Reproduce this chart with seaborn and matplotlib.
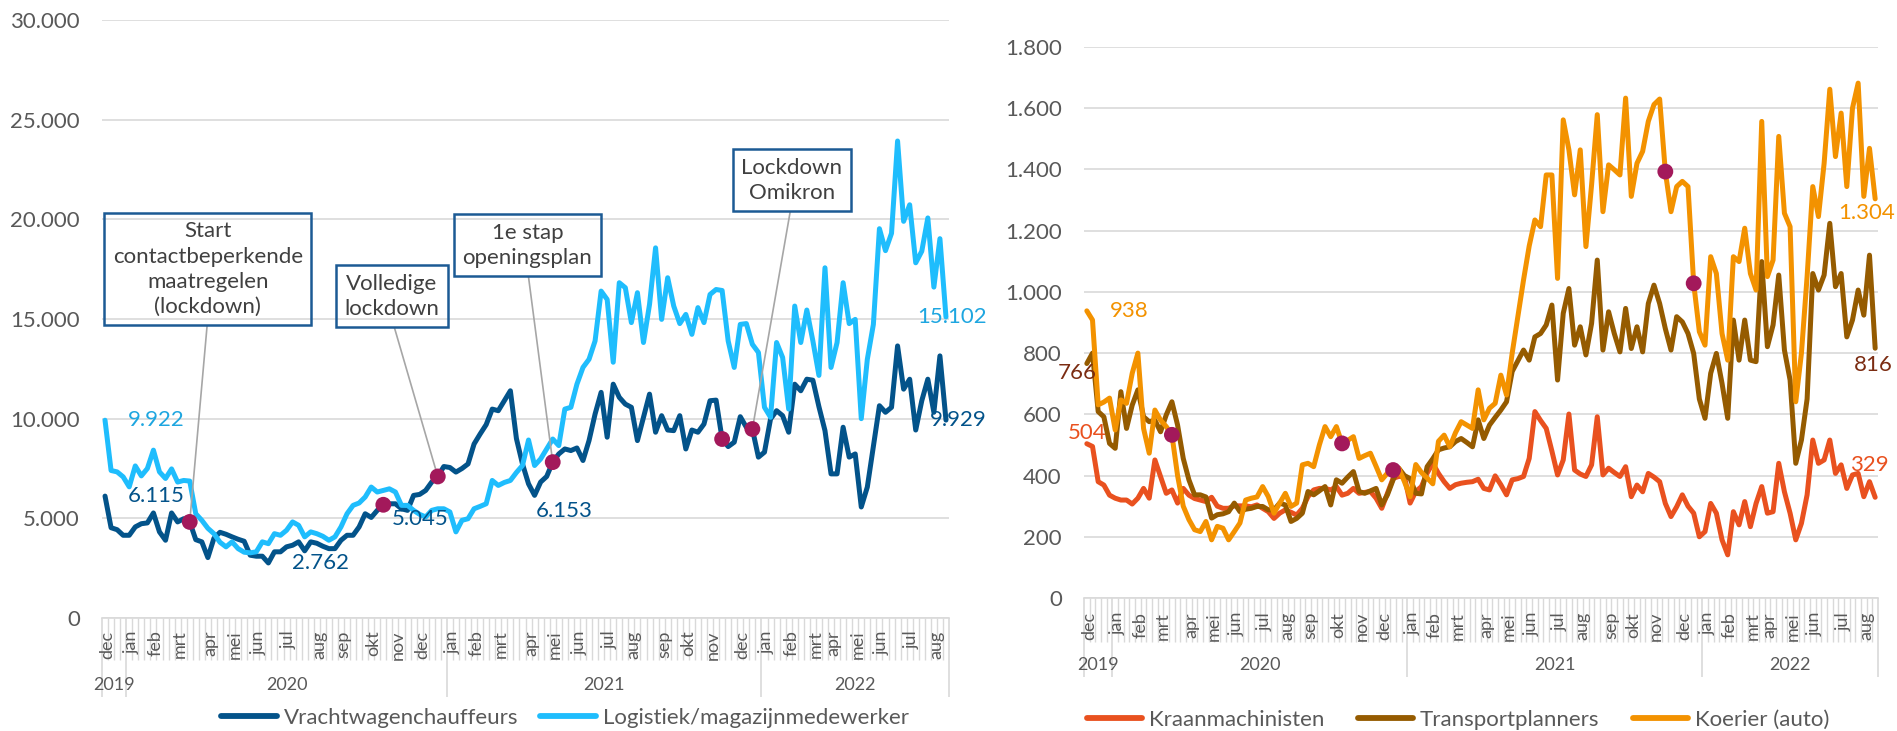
import numpy as np
import pandas as pd
import matplotlib
matplotlib.use("Agg")
import matplotlib.pyplot as plt
from matplotlib.lines import Line2D
from matplotlib.ticker import FuncFormatter, MultipleLocator
import seaborn as sns

# weekly category axis: (year, [(month, number of weeks)])
months_left = [
    ("2019", [("dec", 4)]),
    ("2020", [("jan", 4), ("feb", 4), ("mrt", 5), ("apr", 4), ("mei", 4), ("jun", 5),
              ("jul", 5), ("aug", 4), ("sep", 5), ("okt", 4), ("nov", 4), ("dec", 5)]),
    ("2021", [("jan", 4), ("feb", 4), ("mrt", 5), ("apr", 4), ("mei", 4), ("jun", 5),
              ("jul", 4), ("aug", 5), ("sep", 4), ("okt", 4), ("nov", 5), ("dec", 4)]),
    ("2022", [("jan", 4), ("feb", 4), ("mrt", 3), ("apr", 4), ("mei", 4), ("jun", 5),
              ("jul", 4), ("aug", 3)]),
]
months_right = [
    ("2019", [("dec", 5)]),
    ("2020", [("jan", 4), ("feb", 4), ("mrt", 5), ("apr", 4), ("mei", 4), ("jun", 5),
              ("jul", 4), ("aug", 4), ("sep", 5), ("okt", 4), ("nov", 4), ("dec", 5)]),
    ("2021", [("jan", 4), ("feb", 4), ("mrt", 5), ("apr", 4), ("mei", 4), ("jun", 5),
              ("jul", 4), ("aug", 5), ("sep", 4), ("okt", 4), ("nov", 5), ("dec", 4)]),
    ("2022", [("jan", 4), ("feb", 4), ("mrt", 3), ("apr", 4), ("mei", 4), ("jun", 5),
              ("jul", 4), ("aug", 3)]),
]

vrachtwagen = [
    6115, 4530, 4430, 4150, 4150, 4570, 4730, 4770, 5270, 4320,
    3900, 5270, 4820, 4980, 4820, 3930, 3820, 3030, 4000, 4300,
    4200, 4070, 3950, 3850, 3150, 3100, 3100, 2762, 3320, 3320,
    3570, 3650, 3820, 3370, 3820, 3750, 3600, 3480, 3480, 3900,
    4150, 4150, 4570, 5230, 5045, 5400, 5680, 5730, 5730, 5480,
    5400, 6150, 6200, 6400, 6820, 7100, 7600, 7550, 7320, 7500,
    7730, 8730, 9230, 9700, 10480, 10400, 10900, 11400, 9000, 7730,
    6730, 6153, 6820, 7100, 7820, 8230, 8480, 8400, 8530, 7900,
    8900, 10230, 11320, 9070, 11730, 11070, 10730, 10570, 8900, 10070,
    11230, 9320, 10150, 9430, 9400, 10150, 8480, 9430, 9320, 9730,
    10900, 10930, 8980, 8600, 8820, 10100, 9570, 9480, 8070, 8320,
    9980, 10400, 10150, 9320, 11730, 11400, 11980, 11930, 10600, 9400,
    7230, 7230, 9570, 8070, 8230, 5570, 6570, 8600, 10650, 10320,
    10570, 13650, 11480, 11980, 9430, 10900, 11980, 10320, 13150, 9929,
]
logistiek = [
    9922, 7400, 7330, 7080, 6580, 7630, 7130, 7500, 8420, 7330,
    7000, 7480, 6820, 6900, 6870, 5230, 4900, 4500, 4230, 3800,
    3570, 3820, 3480, 3300, 3270, 3320, 3820, 3730, 4230, 4150,
    4400, 4820, 4650, 4070, 4320, 4230, 4100, 3900, 4070, 4570,
    5230, 5650, 5770, 6070, 6570, 6320, 6400, 6480, 6320, 5650,
    5650, 5400, 5200, 5070, 5400, 5480, 5480, 5320, 4320, 4900,
    4980, 5480, 5600, 5730, 6900, 6650, 6800, 6900, 7300, 7650,
    8930, 7650, 7980, 8480, 8980, 8650, 10480, 10570, 11730, 12570,
    12980, 13900, 16400, 15980, 12830, 16820, 16570, 14820, 16320, 13820,
    15730, 18570, 14980, 17070, 15650, 14770, 15230, 14230, 15570, 14820,
    16230, 16480, 16430, 13900, 12570, 14730, 14770, 13730, 13320, 10570,
    10070, 13820, 13070, 10480, 15650, 13820, 15450, 13900, 12170, 17570,
    12570, 13820, 16820, 14770, 14980, 10000, 12980, 14730, 19530, 18430,
    19300, 23930, 19900, 20730, 17820, 18400, 20070, 16600, 19030, 15102,
]
kraan = [
    504, 495, 380, 369, 336, 326, 320, 320, 307, 326,
    358, 326, 451, 397, 342, 353, 310, 358, 336, 325,
    320, 315, 329, 300, 293, 293, 301, 301, 301, 298,
    304, 293, 282, 260, 277, 288, 280, 271, 293, 331,
    353, 358, 358, 353, 364, 336, 342, 358, 342, 345,
    348, 326, 293, 342, 391, 397, 397, 310, 348, 364,
    408, 440, 407, 380, 358, 370, 375, 378, 380, 388,
    358, 353, 399, 370, 337, 386, 390, 397, 456, 609,
    580, 554, 480, 402, 451, 601, 418, 405, 397, 435,
    592, 402, 424, 410, 397, 429, 331, 369, 347, 407,
    395, 380, 309, 266, 298, 337, 300, 277, 200, 217,
    309, 277, 190, 141, 282, 239, 315, 233, 309, 364,
    277, 282, 440, 347, 277, 190, 244, 337, 516, 440,
    451, 516, 407, 435, 358, 402, 407, 331, 380, 329,
]
transport = [
    766, 800, 609, 592, 505, 489, 674, 554, 630, 680,
    592, 576, 581, 543, 598, 641, 565, 456, 386, 337,
    337, 330, 261, 272, 275, 282, 310, 282, 290, 293,
    299, 299, 288, 288, 310, 304, 250, 260, 277, 348,
    337, 350, 364, 304, 386, 375, 395, 413, 348, 342,
    350, 358, 304, 337, 386, 424, 400, 390, 342, 340,
    429, 455, 484, 490, 494, 511, 521, 508, 494, 582,
    521, 565, 590, 614, 641, 740, 775, 810, 777, 853,
    864, 892, 957, 712, 930, 1011, 826, 886, 794, 897,
    1104, 810, 935, 864, 804, 946, 815, 886, 804, 962,
    1022, 962, 880, 810, 919, 902, 864, 799, 650, 587,
    734, 799, 701, 587, 908, 777, 908, 777, 772, 1099,
    821, 892, 1055, 810, 712, 440, 516, 650, 1060, 1006,
    1055, 1224, 1017, 1060, 853, 908, 1006, 924, 1120, 816,
]
koerier = [
    938, 908, 631, 640, 653, 549, 647, 636, 734, 800,
    554, 473, 614, 581, 560, 533, 400, 300, 256, 223,
    217, 250, 190, 234, 228, 190, 217, 245, 320, 326,
    330, 364, 331, 277, 310, 342, 299, 310, 435, 440,
    429, 500, 560, 527, 560, 505, 515, 527, 456, 465,
    473, 430, 386, 408, 418, 424, 380, 331, 436, 410,
    392, 373, 512, 532, 494, 540, 576, 565, 554, 680,
    582, 620, 636, 728, 663, 800, 919, 1039, 1150, 1235,
    1213, 1382, 1382, 1044, 1562, 1464, 1317, 1464, 1148, 1350,
    1579, 1262, 1415, 1399, 1382, 1633, 1312, 1420, 1459, 1557,
    1612, 1630, 1393, 1262, 1344, 1361, 1344, 1028, 870, 826,
    1115, 1060, 864, 777, 1115, 1099, 1208, 1060, 1006, 1557,
    1050, 1104, 1508, 1257, 1213, 641, 800, 1050, 1344, 1246,
    1420, 1662, 1442, 1584, 1344, 1600, 1682, 1312, 1469, 1304,
]

# corona measures (week index) marked with a dot
events_left = [14, 46, 55, 74, 102, 107]
events_right = [15, 45, 54, 102, 107]
annotations = [
    (14, "Start\ncontactbeperkende\nmaatregelen\n(lockdown)", 17.0, 17500),
    (55, "Volledige\nlockdown", 47.4, 16150),
    (74, "1e stap\nopeningsplan", 69.8, 18700),
    (107, "Lockdown\nOmikron", 113.5, 21950),
]

DARK = "#03538A"
LIGHT = "#1FBDFD"
KRAAN = "#E9511F"
TRANSP = "#955B00"
KOER = "#F39200"
DOT = "#A3195B"
GRID = "#D9D9D9"
TXT = "#595959"

sns.set_theme(style="white")
plt.rcParams["font.family"] = ["Lato", "DejaVu Sans"]

n = len(vrachtwagen)
weeks = np.arange(n)
df = pd.DataFrame({"week": weeks, "Vrachtwagenchauffeurs": vrachtwagen,
                   "Logistiek/magazijnmedewerker": logistiek,
                   "Kraanmachinisten": kraan, "Transportplanners": transport,
                   "Koerier (auto)": koerier})

dutch = FuncFormatter(lambda v, p: f"{v:,.0f}".replace(",", "."))


def category_axis(ax, months, tick_len, month_off):
    total = sum(c for _, ms in months for _, c in ms)
    ax.set_xlim(-0.5, total - 0.5)
    year_bounds = [-0.5]
    pos = 0
    for year, ms in months:
        start = pos
        for m, c in ms:
            ax.annotate(m, xy=(pos + 0.4, 0), xycoords=ax.get_xaxis_transform(),
                        xytext=(0, -month_off), textcoords="offset points",
                        rotation=90, ha="center", va="top", fontsize=13, color=TXT)
            pos += c
        ax.annotate(year, xy=((start + pos - 1) / 2, 0), xycoords=ax.get_xaxis_transform(),
                    xytext=(0, -48), textcoords="offset points",
                    ha="center", va="center", fontsize=13, color=TXT)
        year_bounds.append(pos - 0.5)
    ax.set_xticks(year_bounds)
    ax.set_xticklabels([])
    ax.set_xticks(np.arange(-0.5, total, 1.0), minor=True)
    ax.tick_params(axis="x", which="both", bottom=True, direction="out")
    ax.tick_params(axis="x", which="major", length=57, color=GRID, width=1.2)
    ax.tick_params(axis="x", which="minor", length=tick_len, color=GRID, width=1.0)
    ax.set_xlabel("")


def style_y(ax, top, step):
    ax.set_ylim(0, top)
    ax.yaxis.set_major_locator(MultipleLocator(step))
    ax.yaxis.set_major_formatter(dutch)
    ax.grid(axis="y", color=GRID, lw=1.2)
    ax.set_axisbelow(True)
    ax.tick_params(axis="y", length=0, pad=16, labelsize=16, labelcolor=TXT)
    ax.set_ylabel("")
    for s in ["left", "right", "top"]:
        ax.spines[s].set_visible(False)
    ax.spines["bottom"].set_color(GRID)
    ax.spines["bottom"].set_linewidth(1.2)


def label(ax, x, v, dx, dy, ha, color):
    ax.annotate(f"{v:,.0f}".replace(",", "."), xy=(x, v), xytext=(dx, dy),
                textcoords="offset points", ha=ha, va="center", fontsize=16,
                color=color, zorder=6)


fig = plt.figure(figsize=(18.97, 7.31), dpi=100)
ax1 = fig.add_axes([102 / 1897, 113 / 731, 847 / 1897, 598 / 731])
ax2 = fig.add_axes([1084 / 1897, 133 / 731, 794 / 1897, 551 / 731])

# left panel
sns.lineplot(data=df, x="week", y="Vrachtwagenchauffeurs", ax=ax1, color=DARK, lw=3.6, zorder=3)
sns.lineplot(data=df, x="week", y="Logistiek/magazijnmedewerker", ax=ax1, color=LIGHT, lw=3.6, zorder=3)
ev = df.loc[events_left]
sns.scatterplot(x=ev["week"], y=ev["Vrachtwagenchauffeurs"], ax=ax1, color=DOT, s=130,
                edgecolor="none", zorder=5)
style_y(ax1, 30000, 5000)
category_axis(ax1, months_left, 30, 9)

for idx, txt, tx, ty in annotations:
    ax1.annotate(txt, xy=(idx, vrachtwagen[idx]), xytext=(tx, ty), textcoords="data",
                 ha="center", va="center", fontsize=16, color="#404040", linespacing=1.32,
                 bbox=dict(boxstyle="square,pad=0.38", fc="none", ec="#1C5A94", lw=1.8),
                 arrowprops=dict(arrowstyle="-", color="#A6A6A6", lw=1.2,
                                 shrinkA=0, shrinkB=0, relpos=(0.5, 0)),
                 zorder=4)

label(ax1, 0, vrachtwagen[0], 16.5, 0, "left", DARK)
label(ax1, 0, logistiek[0], 16.5, 0, "left", "#1EA6E0")
label(ax1, 27, vrachtwagen[27], 17, 0, "left", DARK)
label(ax1, 44, vrachtwagen[44], 15, -1, "left", DARK)
label(ax1, 71, vrachtwagen[71], 0.7, -11.5, "left", DARK)
label(ax1, n - 1, vrachtwagen[-1], 9, 0, "center", DARK)
label(ax1, n - 1, logistiek[-1], 4, 0, "center", "#1EA6E0")

# right panel
sns.lineplot(data=df, x="week", y="Kraanmachinisten", ax=ax2, color=KRAAN, lw=3.6, zorder=3)
sns.lineplot(data=df, x="week", y="Transportplanners", ax=ax2, color=TRANSP, lw=3.6, zorder=3)
sns.lineplot(data=df, x="week", y="Koerier (auto)", ax=ax2, color=KOER, lw=3.6, zorder=3)
ev = df.loc[events_right]
sns.scatterplot(x=ev["week"], y=ev["Koerier (auto)"], ax=ax2, color=DOT, s=130,
                edgecolor="none", zorder=5)
style_y(ax2, 1800, 200)
category_axis(ax2, months_right, 32, 10)

label(ax2, 0, koerier[0], 16.5, 0, "left", KOER)
label(ax2, 0, transport[0], -7, -7, "center", "#7B2C12")
label(ax2, 0, kraan[0], 0, 8, "center", KRAAN)
label(ax2, n - 1, koerier[-1], -6, -10, "center", KOER)
label(ax2, n - 1, transport[-1], -1, -12, "center", "#7B2C12")
label(ax2, n - 1, kraan[-1], -4, 23, "center", KRAAN)

# legends
def handle(c):
    return Line2D([], [], color=c, lw=4.2)

fig.legend([handle(DARK), handle(LIGHT)], ["Vrachtwagenchauffeurs", "Logistiek/magazijnmedewerker"],
           loc="center", bbox_to_anchor=(565 / 1897, 1 - 718 / 731), ncol=2, frameon=False,
           fontsize=16, handlelength=2.5, handletextpad=0.3, columnspacing=1.0,
           labelcolor=TXT)
fig.legend([handle(KRAAN), handle(TRANSP), handle(KOER)],
           ["Kraanmachinisten", "Transportplanners", "Koerier (auto)"],
           loc="center", bbox_to_anchor=(1458 / 1897, 1 - 720 / 731), ncol=3, frameon=False,
           fontsize=16, handlelength=2.5, handletextpad=0.3, columnspacing=1.5,
           labelcolor=TXT)

fig.savefig("out.png", dpi=100)
